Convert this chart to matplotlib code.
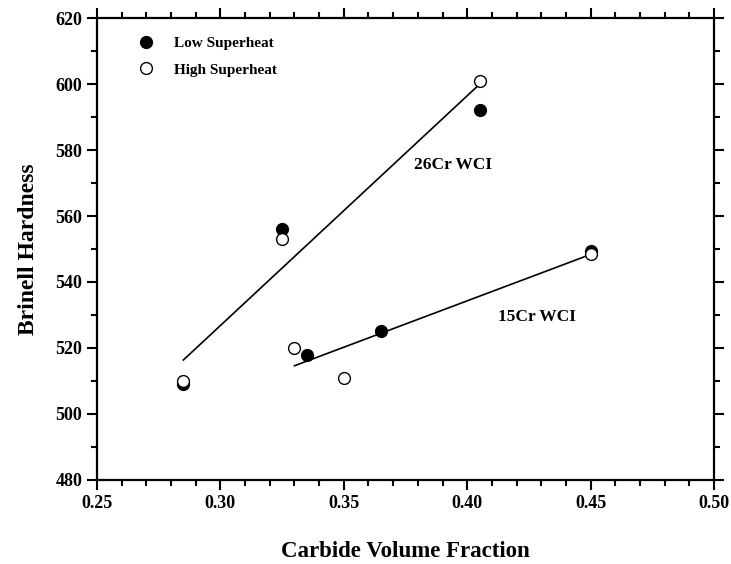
import matplotlib.pyplot as plt
import numpy as np
from matplotlib.ticker import MultipleLocator

plt.rcParams['font.family'] = ['Liberation Serif', 'DejaVu Serif']
plt.rcParams['font.weight'] = 'bold'

# 26Cr WCI
cr26_x_low = [0.285, 0.325, 0.405]
cr26_y_low = [509, 556, 592]
cr26_x_high = [0.285, 0.325, 0.405]
cr26_y_high = [510, 553, 601]

# 15Cr WCI
cr15_x_low = [0.335, 0.365, 0.45]
cr15_y_low = [518, 525, 549.5]
cr15_x_high = [0.33, 0.35, 0.45]
cr15_y_high = [520, 511, 548.5]

fig = plt.figure(figsize=(7.31, 5.64), dpi=100)
ax = fig.add_axes([0.1327, 0.149, 0.844, 0.819])

# Rectas de ajuste lineal por aleacion
for xs, ys in [(cr26_x_low + cr26_x_high, cr26_y_low + cr26_y_high),
               (cr15_x_low + cr15_x_high, cr15_y_low + cr15_y_high)]:
    xs = np.array(xs)
    m, b = np.polyfit(xs, ys, 1)
    xl = np.array([xs.min(), xs.max()])
    ax.plot(xl, m * xl + b, color='black', lw=1.2, zorder=1)

ms = 8.5
ax.plot(cr26_x_low + cr15_x_low, cr26_y_low + cr15_y_low, 'o', ms=ms,
        mfc='black', mec='black', mew=1, label='Low Superheat', zorder=2)
ax.plot(cr26_x_high + cr15_x_high, cr26_y_high + cr15_y_high, 'o', ms=ms,
        mfc='white', mec='black', mew=1, label='High Superheat', zorder=3)

ax.text(0.3785, 575.5, '26Cr WCI', fontsize=12.5, fontweight='bold', va='center')
ax.text(0.4125, 529.5, '15Cr WCI', fontsize=12.5, fontweight='bold', va='center')

ax.set_xlim(0.25, 0.50)
ax.set_ylim(480, 620)
ax.xaxis.set_major_locator(MultipleLocator(0.05))
ax.xaxis.set_minor_locator(MultipleLocator(0.01))
ax.yaxis.set_major_locator(MultipleLocator(20))
ax.yaxis.set_minor_locator(MultipleLocator(10))
ax.xaxis.set_major_formatter(plt.FormatStrFormatter('%.2f'))

ax.tick_params(which='both', direction='out', top=True, right=True,
               labeltop=False, labelright=False, width=1.5, labelsize=13)
ax.tick_params(which='major', length=7)
ax.tick_params(which='minor', length=4.5)
for lab in ax.get_xticklabels() + ax.get_yticklabels():
    lab.set_fontweight('bold')
for s in ax.spines.values():
    s.set_linewidth(1.6)

ax.set_xlabel('Carbide Volume Fraction', fontsize=16.5, fontweight='bold', labelpad=21)
ax.set_ylabel('Brinell Hardness', fontsize=17, fontweight='bold', labelpad=12)

ax.legend(loc='upper left', frameon=False, fontsize=11, handletextpad=0.8,
          borderaxespad=0.8, labelspacing=0.85, bbox_to_anchor=(0.025, 1.0))

fig.savefig('out.png', dpi=100)
